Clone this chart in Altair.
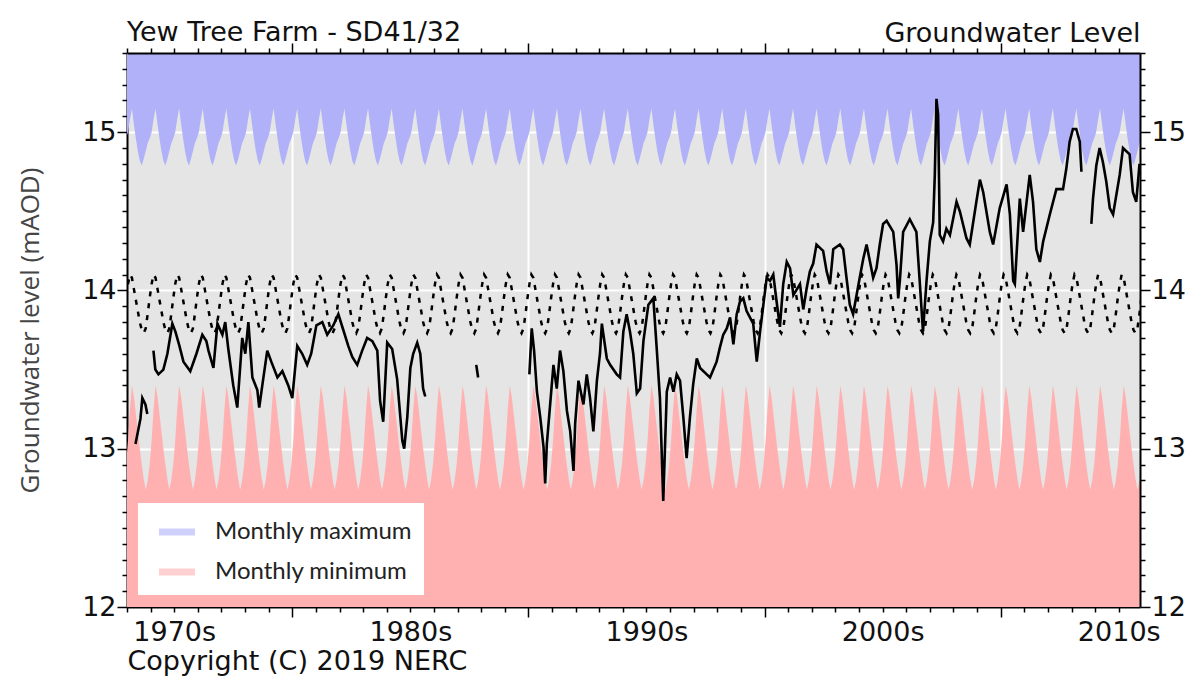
import altair as alt
import pandas as pd

# ---------------- data ----------------
# Monthly climatology (Jan..Dec), mAOD
months = list(range(12))
monthly_max = [15.00, 15.08, 15.15, 15.05, 14.96, 14.88, 14.82, 14.79, 14.83, 14.88, 14.93, 14.96]
monthly_min = [13.05, 13.25, 13.40, 13.33, 13.22, 13.11, 13.00, 12.90, 12.81, 12.74, 12.80, 12.90]
monthly_mean = [14.04, 14.10, 14.08, 14.01, 13.94, 13.87, 13.80, 13.75, 13.73, 13.76, 13.85, 13.95]
clim_years = list(range(1967, 2012))

# Observed groundwater level (decimal year, mAOD); None = gap in record
level_time = [
    1968.36, 1968.57, 1968.65, 1968.78, 1968.86, 1969.00,
    1969.12, 1969.20, 1969.33, 1969.54, 1969.71, 1969.92, 1970.05, 1970.22, 1970.39, 1970.68,
    1970.94, 1971.19, 1971.36, 1971.45, 1971.66, 1971.83, 1972.04, 1972.16, 1972.29, 1972.50,
    1972.67, 1972.88, 1973.01, 1973.14, 1973.31, 1973.52, 1973.60, 1973.73, 1973.94, 1974.11,
    1974.37, 1974.58, 1974.83, 1975.00, 1975.21, 1975.42, 1975.63, 1975.80, 1976.02, 1976.27,
    1976.48, 1976.74, 1976.95, 1977.16, 1977.37, 1977.54, 1977.75, 1977.96, 1978.17, 1978.39,
    1978.60, 1978.72, 1978.85, 1979.02, 1979.23, 1979.44, 1979.66, 1979.74, 1979.87, 1980.00,
    1980.12, 1980.29, 1980.42, 1980.54, 1980.63, 1981.50,
    1982.79, 1982.87, 1984.00,
    1985.04, 1985.14, 1985.24, 1985.36, 1985.50, 1985.64, 1985.71, 1985.78, 1985.92, 1986.06,
    1986.20, 1986.34, 1986.48, 1986.63, 1986.77, 1986.91, 1986.98, 1987.12, 1987.33, 1987.47,
    1987.61, 1987.75, 1987.90, 1988.03, 1988.11, 1988.32, 1988.46, 1988.74, 1988.88, 1989.02,
    1989.16, 1989.30, 1989.44, 1989.59, 1989.73, 1989.87, 1990.08, 1990.29, 1990.43, 1990.57,
    1990.71, 1990.86, 1991.00, 1991.14, 1991.28, 1991.42, 1991.56, 1991.70, 1991.84, 1991.98,
    1992.13, 1992.27, 1992.55, 1992.69, 1992.97, 1993.11, 1993.25, 1993.40, 1993.54, 1993.68,
    1993.82, 1993.96, 1994.10, 1994.24, 1994.52, 1994.67, 1994.81, 1994.95, 1995.09, 1995.23,
    1995.37, 1995.51, 1995.65, 1995.79, 1995.94, 1996.08, 1996.22, 1996.50, 1996.64, 1996.78,
    1996.92, 1997.06, 1997.20, 1997.48, 1997.63, 1997.77, 1997.91, 1998.19, 1998.33, 1998.47,
    1998.61, 1998.75, 1999.03, 1999.18, 1999.32, 1999.60, 1999.74, 1999.88, 2000.02, 2000.17,
    2000.45, 2000.59, 2000.66, 2000.73, 2000.87, 2001.15, 2001.43, 2001.57, 2001.71, 2001.86,
    2002.00, 2002.14, 2002.21, 2002.28, 2002.35, 2002.39, 2002.42, 2002.56, 2002.70, 2002.85,
    2003.13, 2003.27, 2003.55, 2003.69, 2003.97, 2004.12, 2004.26, 2004.54, 2004.68, 2004.96,
    2005.25, 2005.39, 2005.53, 2005.60, 2005.81, 2005.95, 2006.23, 2006.37, 2006.51, 2006.66,
    2006.80, 2007.08, 2007.36, 2007.64, 2007.78, 2007.92, 2008.06, 2008.20, 2008.35, 2008.42,
    2008.60,
    2008.84, 2008.91, 2009.05, 2009.19, 2009.33, 2009.47, 2009.62, 2009.76, 2010.04, 2010.18,
    2010.46, 2010.60, 2010.74, 2010.88,
]
level_value = [
    13.03, 13.19, 13.32, 13.28, 13.22, None,
    13.62, 13.50, 13.47, 13.50, 13.60, 13.79, 13.74, 13.65, 13.55, 13.49,
    13.60, 13.72, 13.68, 13.62, 13.51, 13.79, 13.72, 13.80, 13.63, 13.40,
    13.26, 13.70, 13.60, 13.80, 13.45, 13.37, 13.26, 13.40, 13.62, 13.55,
    13.45, 13.49, 13.40, 13.32, 13.65, 13.60, 13.53, 13.60, 13.78, 13.80,
    13.72, 13.78, 13.85, 13.75, 13.65, 13.58, 13.53, 13.62, 13.70, 13.68,
    13.62, 13.30, 13.17, 13.67, 13.63, 13.44, 13.05, 13.00, 13.20, 13.51,
    13.60, 13.67, 13.60, 13.38, 13.33, None,
    13.53, 13.45, None,
    13.47, 13.76, 13.62, 13.36, 13.20, 13.01, 12.78, 13.03, 13.28, 13.53,
    13.38, 13.62, 13.49, 13.24, 13.11, 12.86, 13.16, 13.43, 13.28, 13.47,
    13.32, 13.11, 13.43, 13.60, 13.79, 13.57, 13.53, 13.47, 13.45, 13.74,
    13.85, 13.74, 13.60, 13.35, 13.38, 13.68, 13.91, 13.95, 13.64, 13.32,
    12.67, 13.36, 13.45, 13.36, 13.47, 13.43, 13.20, 12.94, 13.20, 13.41,
    13.57, 13.51, 13.47, 13.45, 13.55, 13.64, 13.72, 13.76, 13.83, 13.66,
    13.85, 13.93, 13.95, 13.87, 13.79, 13.55, 13.74, 13.91, 14.08, 14.06,
    14.10, 13.93, 13.77, 14.04, 14.18, 14.14, 13.97, 14.04, 13.88, 14.01,
    14.12, 14.17, 14.29, 14.25, 14.12, 14.04, 14.26, 14.29, 14.26, 14.08,
    13.91, 13.85, 14.08, 14.20, 14.29, 14.08, 14.14, 14.29, 14.42, 14.44,
    14.37, 14.16, 13.95, 14.06, 14.37, 14.45, 14.37, 14.06, 13.74, 14.06,
    14.31, 14.43, 14.73, 15.21, 15.11, 14.69, 14.35, 14.31, 14.39, 14.35,
    14.56, 14.50, 14.33, 14.29, 14.56, 14.70, 14.62, 14.37, 14.29, 14.52,
    14.67, 14.48, 14.06, 14.04, 14.58, 14.37, 14.73, 14.56, 14.26, 14.18,
    14.31, 14.48, 14.64, 14.64, 14.77, 14.94, 15.02, 15.02, 14.94, 14.75,
    None,
    14.42, 14.58, 14.79, 14.90, 14.81, 14.69, 14.52, 14.48, 14.73, 14.90,
    14.86, 14.62, 14.56, 14.80,
]

series_names = ["Monthly maximum", "Monthly minimum"]
band_colors = ["#b1b1fa", "#ffb1b1"]
y_domain = [12, 15.5]
x_domain = [1968, 2010.9]
year_ticks = list(range(1968, 2011))
y_ticks = [round(12 + 0.1 * i, 1) for i in range(36)]

# ---------------- tables ----------------
clim = pd.DataFrame(
    [
        {"t": yr + (m + 0.5) / 12, "max": monthly_max[m], "min": monthly_min[m], "mean": monthly_mean[m]}
        for yr in clim_years
        for m in months
    ]
)
bands = pd.concat(
    [
        pd.DataFrame({"t": clim["t"], "lo": clim["max"], "hi": y_domain[1], "series": series_names[0]}),
        pd.DataFrame({"t": clim["t"], "lo": y_domain[0], "hi": clim["min"], "series": series_names[1]}),
    ],
    ignore_index=True,
)
lvl = pd.DataFrame({"t": level_time, "v": level_value})
lvl["seg"] = lvl["v"].isna().cumsum()
lvl = lvl.dropna()

FONT = "DejaVu Sans"
FS = 27
is5 = "datum.value % 10 == 5"
isint = "abs(datum.value - round(datum.value)) < 0.01"

xs = alt.Scale(domain=x_domain, nice=False, zero=False)
ys = alt.Scale(domain=y_domain, nice=False, zero=False)

x_bottom = alt.Axis(
    orient="bottom", values=year_ticks,
    labelExpr="datum.value % 10 == 0 ? datum.value + 's' : ''",
    labelOverlap=False, labelFlush=False,
    tickSize={"condition": {"test": is5, "value": 10}, "value": 5},
    tickColor="black", tickWidth=1.5,
    domainColor="black", domainWidth=2,
    grid=True, gridColor="white", gridWidth=2,
    gridOpacity={"condition": {"test": is5, "value": 1}, "value": 0},
    labelFont=FONT, labelFontSize=FS, labelColor="#111111", labelPadding=7,
    title="Copyright (C) 2019 NERC", titleFont=FONT, titleFontSize=FS,
    titleFontWeight="normal", titleColor="#111111", titleAnchor="start",
    titleAlign="left", titlePadding=-2,
)
x_top = alt.Axis(
    orient="top", values=year_ticks, labels=False,
    tickSize={"condition": {"test": is5, "value": 10}, "value": 5},
    tickColor="black", tickWidth=1.5,
    domainColor="black", domainWidth=2, grid=False,
    title="Groundwater Level", titleFont=FONT, titleFontSize=FS,
    titleFontWeight="normal", titleColor="#111111", titleAnchor="end",
    titleAlign="right", titlePadding=-5, zindex=1,
)
y_left = alt.Axis(
    orient="left", values=y_ticks,
    labelExpr=f"{isint} ? format(datum.value, 'd') : ''",
    labelOverlap=False, labelFlush=False,
    tickSize={"condition": {"test": isint, "value": 10}, "value": 5},
    tickColor="black", tickWidth=1.5,
    domainColor="black", domainWidth=2,
    grid=True, gridColor="white", gridWidth=2,
    gridOpacity={"condition": {"test": isint, "value": 1}, "value": 0},
    labelFont=FONT, labelFontSize=FS, labelColor="#111111", labelPadding=1,
    title="Groundwater level (mAOD)", titleFont="Open Sans", titleFontSize=26,
    titleFontWeight="normal", titleColor="#454545", titlePadding=38,
)
y_right = alt.Axis(
    orient="right", values=y_ticks,
    labelExpr=f"{isint} ? format(datum.value, 'd') : ''",
    labelOverlap=False, labelFlush=False,
    tickSize={"condition": {"test": isint, "value": 10}, "value": 5},
    tickColor="black", tickWidth=1.5,
    domainColor="black", domainWidth=2, grid=False,
    labelFont=FONT, labelFontSize=FS, labelColor="#111111", labelPadding=1,
    title="", zindex=1,
)

legend = alt.Legend(
    orient="none", legendX=11, legendY=450,
    fillColor="white", padding=11, cornerRadius=0,
    symbolType="M-1,-0.2H1V0.2H-1Z", symbolSize=1296, symbolOffset=10,
    symbolStrokeWidth=0, symbolOpacity=0.6,
    labelOffset=20, labelFont="Lato", labelFontSize=24, labelColor="#222222",
    labelLimit=500, rowPadding=10,
)

band_layer = alt.Chart(bands).mark_area(clip=True, opacity=1).encode(
    x=alt.X("t:Q", scale=xs, axis=x_bottom),
    y=alt.Y("lo:Q", scale=ys, axis=y_left, stack=None),
    y2="hi:Q",
    color=alt.Color("series:N", scale=alt.Scale(domain=series_names, range=band_colors),
                    legend=legend, title=None),
)

mean_layer = alt.Chart(clim).mark_line(
    clip=True, color="black", strokeWidth=2.5, strokeDash=[5, 7]
).encode(
    x=alt.X("t:Q", scale=xs, axis=None),
    y=alt.Y("mean:Q", scale=ys, axis=None),
)

level_layer = alt.Chart(lvl).mark_line(clip=True, color="black", strokeWidth=2.6).encode(
    x=alt.X("t:Q", scale=xs, axis=x_top),
    y=alt.Y("v:Q", scale=ys, axis=y_right),
    detail="seg:N",
)

chart = (
    alt.layer(band_layer, mean_layer, level_layer)
    .resolve_scale(x="shared", y="shared")
    .resolve_axis(x="independent", y="independent")
    .properties(
        width=1013, height=554,
        autosize=alt.AutoSizeParams(type="none"),
        padding={"left": 127, "top": 53, "right": 53, "bottom": 75},
        background="white",
        title=alt.TitleParams(
            "Yew Tree Farm - SD41/32", anchor="start", frame="group", font=FONT, fontSize=FS,
            fontWeight="normal", color="#111111", dy=32,
        ),
    )
    .configure_view(fill="#e5e5e5", strokeOpacity=0)
)

chart.save("out.html", embed_options={"renderer": "svg", "actions": False})
